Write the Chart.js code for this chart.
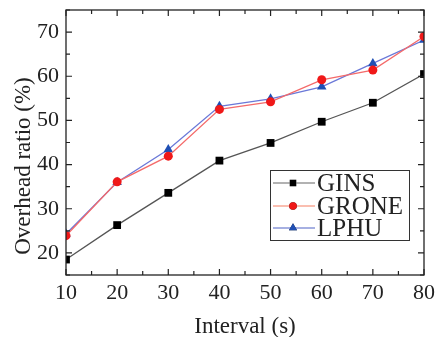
<!DOCTYPE html>
<html>
<head>
<meta charset="utf-8">
<script src="https://cdn.jsdelivr.net/npm/chart.js@4/dist/chart.umd.min.js"></script>
<style>
html,body{margin:0;padding:0;background:#fff;}
#wrap{width:435px;height:337px;position:relative;}
</style>
</head>
<body>
<div id="wrap"><canvas id="c" width="435" height="337"></canvas></div>
<script>
const intervals = [10, 20, 30, 40, 50, 60, 70, 80];
const gins  = [18.5, 26.3, 33.6, 40.9, 44.9, 49.7, 54.0, 60.5];
const grone = [23.9, 36.1, 41.9, 52.5, 54.2, 59.2, 61.4, 69.0];
const lphu  = [24.3, 36.0, 43.4, 53.2, 54.9, 57.6, 62.9, 68.2];
const xTicks = [10, 20, 30, 40, 50, 60, 70, 80];
const yTicks = [20, 30, 40, 50, 60, 70];
const seriesNames = ['GINS', 'GRONE', 'LPHU'];
const xTitle = 'Interval (s)';
const yTitle = 'Overhead ratio (%)';

const FONT = "'Liberation Serif', 'Times New Roman', serif";
const toXY = (arr) => arr.map((v, i) => ({x: intervals[i], y: v}));

const frame = {
  id: 'frame',
  afterDraw(chart) {
    const {ctx, chartArea: a, scales: {x, y}} = chart;
    ctx.save();
    ctx.strokeStyle = '#222';
    ctx.lineWidth = 1.3;
    ctx.strokeRect(a.left, a.top, a.right - a.left, a.bottom - a.top);
    ctx.lineWidth = 1.2;
    ctx.beginPath();
    for (let v = 10; v <= 80; v += 5) {
      const px = x.getPixelForValue(v);
      const L = (v % 10 === 0) ? 6 : 4;
      ctx.moveTo(px, a.bottom); ctx.lineTo(px, a.bottom - L);
      ctx.moveTo(px, a.top); ctx.lineTo(px, a.top + L);
    }
    for (let v = 15; v <= 75; v += 5) {
      const py = y.getPixelForValue(v);
      const L = (v % 10 === 0) ? 6 : 4;
      ctx.moveTo(a.left, py); ctx.lineTo(a.left + L, py);
      ctx.moveTo(a.right, py); ctx.lineTo(a.right - L, py);
    }
    ctx.stroke();
    // y axis title
    ctx.fillStyle = '#222';
    ctx.font = '23px ' + FONT;
    ctx.textAlign = 'center';
    ctx.textBaseline = 'middle';
    ctx.translate(24, 166);
    ctx.rotate(-Math.PI / 2);
    ctx.fillText(yTitle, 0, 0);
    ctx.restore();
  }
};

new Chart(document.getElementById('c'), {
  type: 'line',
  data: {
    datasets: [
      {label: seriesNames[0], data: toXY(gins), borderColor: '#555', backgroundColor: '#000', borderWidth: 1.3,
       pointStyle: 'rect', pointRadius: 5.5, pointBorderWidth: 0},
      {label: seriesNames[1], data: toXY(grone), borderColor: '#f46a6a', backgroundColor: '#f01818', borderWidth: 1.3,
       pointStyle: 'circle', pointRadius: 4.5, pointBorderWidth: 0},
      {label: seriesNames[2], data: toXY(lphu), borderColor: '#6a78d8', backgroundColor: '#1f4fb4', borderWidth: 1.3,
       pointStyle: 'triangle', pointRadius: 5.5, pointBorderWidth: 0}
    ]
  },
  options: {
    responsive: false,
    animation: false,
    layout: {padding: {top: 10, right: 11, left: 0, bottom: 0}},
    plugins: {
      tooltip: {enabled: false},
      legend: {display: false}
    },
    scales: {
      x: {
        type: 'linear', min: 10, max: 80,
        afterBuildTicks: (s) => { s.ticks = xTicks.map(v => ({value: v})); },
        afterFit: (s) => { s.height = 62; s.paddingLeft = 0; s.paddingRight = 0; },
        grid: {display: false, drawTicks: false},
        border: {display: false},
        ticks: {font: {family: FONT, size: 22}, color: '#222', padding: 5, maxRotation: 0},
        title: {display: true, text: xTitle, font: {family: FONT, size: 23, lineHeight: 0.8}, color: '#222', padding: {top: 0, bottom: 1}}
      },
      y: {
        type: 'linear', min: 15, max: 75,
        afterBuildTicks: (s) => { s.ticks = yTicks.map(v => ({value: v})); },
        afterFit: (s) => { s.width = 66; s.paddingTop = 0; s.paddingBottom = 0; },
        grid: {display: false, drawTicks: false},
        border: {display: false},
        ticks: {font: {family: FONT, size: 22}, color: '#222', padding: 7}
      }
    }
  },
  plugins: [frame, {
    id: 'legendBox',
    afterDraw(chart) {
      const {ctx} = chart;
      const ds = chart.data.datasets;
      const bx = 270, by = 170, bw = 139, bh = 70;
      ctx.save();
      ctx.fillStyle = '#fff';
      ctx.fillRect(bx, by, bw, bh);
      ctx.strokeStyle = '#333';
      ctx.lineWidth = 1;
      ctx.strokeRect(bx + 0.5, by + 0.5, bw, bh);
      const legendLine = ['#999', '#f8a896', '#8896d8'];
      const rows = [183, 206, 228];
      ds.forEach((d, i) => {
        const yy = rows[i];
        ctx.strokeStyle = legendLine[i];
        ctx.lineWidth = 1.5;
        ctx.beginPath(); ctx.moveTo(273, yy); ctx.lineTo(315, yy); ctx.stroke();
        Chart.helpers.drawPoint(ctx, {pointStyle: d.pointStyle, radius: d.pointRadius * 0.85, borderWidth: 0}, 293, yy);
        ctx.fillStyle = d.backgroundColor;
        ctx.fill();
        ctx.fillStyle = '#222';
        ctx.font = '25px ' + FONT;
        ctx.textBaseline = 'middle';
        ctx.textAlign = 'left';
        ctx.fillText(d.label, 317, yy + 1);
      });
      ctx.restore();
    }
  }]
});
</script>
</body>
</html>
